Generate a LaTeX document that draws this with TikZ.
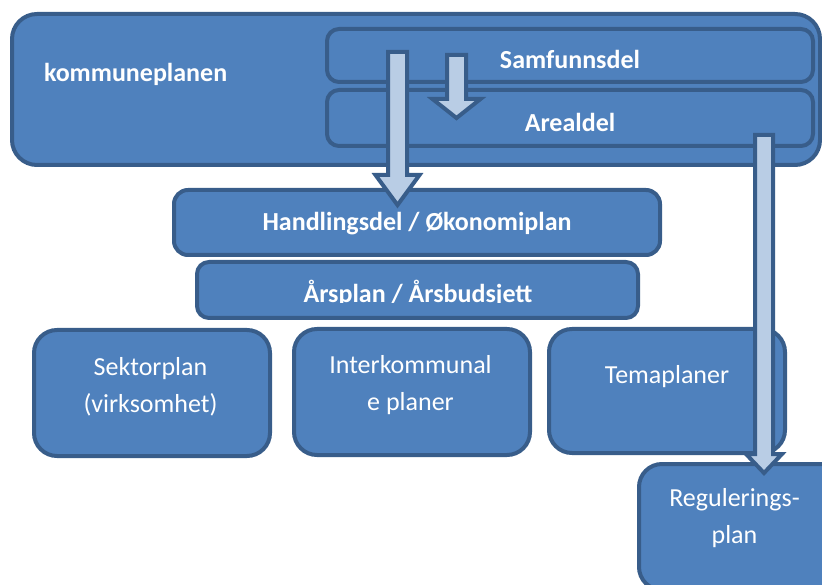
\documentclass[tikz,border=0pt]{standalone}
\usepackage{fontspec}
\setmainfont{Carlito}
\usetikzlibrary{calc}

\definecolor{planfill}{HTML}{4F81BD}
\definecolor{planline}{HTML}{385D8A}
\definecolor{arrowfill}{HTML}{B9CDE5}

\newcommand{\blockarrow}[5]{%
	\draw[blockarr] ($(#1)+(-#3,0)$) -- ($(#2)+(-#3,-#5)$) -- ($(#2)+(-#4,-#5)$) -- (#2)
		-- ($(#2)+(#4,-#5)$) -- ($(#2)+(#3,-#5)$) -- ($(#1)+(#3,0)$) -- cycle;}

\begin{document}
\begin{tikzpicture}[x=1pt, y=-1pt, line width=4pt,
	planbox/.style={rectangle, rounded corners=#1, fill=planfill, draw=planline, inner sep=0pt},
	planbox/.default=12pt,
	plantxt/.style={text=white, font=\fontsize{26}{37}\selectfont, align=center, inner sep=0pt},
	boldtxt/.style={text=white, font=\fontsize{26}{37}\selectfont\bfseries, inner sep=0pt},
	blockarr/.style={fill=arrowfill, draw=planline, line join=miter}
]
	\useasboundingbox (0,0) rectangle (822,585);

	\node[planbox=25pt, minimum width=808pt, minimum height=151pt] (kplan) at (416,89.5) {};
	\node[boldtxt, anchor=base west] (kplantxt) at (42,82) {kommuneplanen};

	\node[planbox, minimum width=486pt, minimum height=53pt] (samf) at (570,55.5) {};
	\node[boldtxt, anchor=base] (samftxt) at (570,69) {Samfunnsdel};
	\node[planbox, minimum width=486pt, minimum height=56pt] (areal) at (570,118) {};
	\node[boldtxt, anchor=base] (arealtxt) at (570,132) {Arealdel};

	\node[planbox=14pt, minimum width=486pt, minimum height=65pt] (hand) at (417,222.5) {};
	\node[boldtxt, anchor=base] (handtxt) at (417,231) {Handlingsdel / Økonomiplan};

	\node[planbox, minimum width=441pt, minimum height=56pt] (aars) at (417.5,290) {};
	\begin{scope}
		\clip (198,264) rectangle (638,303);
		\node[boldtxt, anchor=base] (aarstxt) at (418,302.3) {Årsplan / Årsbudsjett};
	\end{scope}

	\node[planbox=23pt, minimum width=236pt, minimum height=126pt] (sektor) at (152,393) {};
	\node[plantxt, anchor=base] (sektortxt) at (150.5,412) {Sektorplan\\(virksomhet)};
	\node[planbox=23pt, minimum width=236pt, minimum height=126pt] (inter) at (412,392) {};
	\node[plantxt, anchor=base] (intertxt) at (410.5,410) {Interkommunal\\e planer};
	\node[planbox=23pt, minimum width=236pt, minimum height=124pt] (tema) at (667,391) {};
	\node[plantxt, anchor=base] (tematxt) at (667,383) {Temaplaner};
	\node[planbox=23pt, minimum width=236pt, minimum height=126pt] (regul) at (757,527) {};
	\node[plantxt, anchor=base] (regultxt) at (734.5,543) {Regulerings-\\plan};

	\coordinate (a1s) at (397.5,52);
	\coordinate (a1e) at (397.5,205);
	\coordinate (a2s) at (456.5,55);
	\coordinate (a2e) at (456.5,118);
	\coordinate (a3s) at (764,135);
	\coordinate (a3e) at (764,473);

	\blockarrow{a1s}{a1e}{9.5}{22}{30}
	\blockarrow{a2s}{a2e}{9.5}{24}{19}
	\blockarrow{a3s}{a3e}{9}{18}{19}
\end{tikzpicture}
\end{document}
